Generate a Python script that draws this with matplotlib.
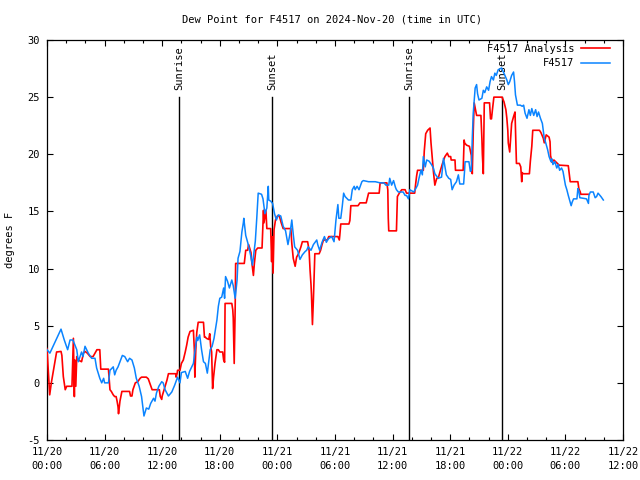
import matplotlib
matplotlib.use("Agg")
import matplotlib.pyplot as plt
from matplotlib.ticker import MultipleLocator

# Hours since 2024-11-20 00:00 UTC
obs_hours = [0, 0.3, 0.8, 1.2, 1.46, 1.8, 2.15, 2.4, 2.7, 3.1, 3.26, 3.6, 3.75, 3.96, 4.3, 4.65, 5.0, 5.17, 5.5, 5.7, 5.9, 6.0, 6.4,
             6.56, 6.9, 7.05, 7.2, 7.4, 7.6, 7.85, 8.1, 8.4, 8.6, 8.85, 9.1, 9.3, 9.6, 9.85, 10.1, 10.35, 10.6, 10.8, 11.1, 11.25,
             11.4, 11.65, 11.95, 12.1, 12.3, 12.65, 13.0, 13.3, 13.6, 13.85, 14.0, 14.4, 14.65, 14.85, 15.25, 15.4, 15.6, 15.7,
             15.9, 16.1, 16.3, 16.5, 16.7, 17.0, 17.2, 17.4, 17.7, 17.85, 18.0, 18.2, 18.4, 18.5, 18.6, 18.8, 19.0, 19.25, 19.4,
             19.6, 19.8, 19.9, 20.1, 20.3, 20.45, 20.5, 20.7, 20.9, 21.1, 21.25, 21.4, 21.7, 21.85, 22.0, 22.35, 22.5, 22.7,
             22.9, 23.05, 23.1, 23.3, 23.5, 23.7, 23.9, 24.1, 24.35, 24.6, 24.85, 25.1, 25.3, 25.5, 25.65, 25.8, 26.1, 26.35,
             26.6, 26.9, 27.05, 27.2, 27.5, 27.75, 28.1, 28.2, 28.4, 28.65, 28.9, 29.1, 29.3, 29.65, 29.9, 30.1, 30.3, 30.4,
             30.6, 30.75, 30.9, 31.05, 31.4, 31.65, 31.8, 32.0, 32.1, 32.3, 32.5, 32.8, 32.95, 33.5, 34.2, 34.7, 35.1, 35.3,
             35.6, 35.7, 35.9, 36.1, 36.3, 36.4, 36.6, 37.1, 37.3, 37.45, 37.65, 37.8, 38.2, 38.35, 38.6, 38.75, 38.95, 39.1,
             39.2, 39.4, 39.55, 39.8, 40.05, 40.25, 40.4, 40.75, 41.1, 41.3, 41.45, 41.6, 41.85, 42.05, 42.2, 42.4, 42.65,
             42.85, 43.0, 43.4, 43.5, 43.55, 43.95, 44.1, 44.2, 44.3, 44.4, 44.6, 44.75, 44.85, 45.0, 45.3, 45.45, 45.6, 45.8,
             46.0, 46.15, 46.3, 46.5, 46.65, 46.8, 47.0, 47.35, 47.7, 47.9, 48.05, 48.2, 48.4, 48.6, 48.7, 48.8, 49.0, 49.3,
             49.5, 49.65, 49.8, 50.0, 50.2, 50.35, 50.5, 50.7, 50.9, 51.05, 51.2, 51.4, 51.6, 51.8, 51.95, 52.15, 52.3, 52.5,
             52.6, 52.7, 52.9, 53.1, 53.25, 53.4, 53.6, 53.75, 54.0, 54.15, 54.3, 54.5, 54.6, 54.7, 54.85, 55.2, 55.3, 55.4,
             55.5, 56.2, 56.4, 56.45, 56.6, 56.9, 57.1, 57.25, 57.4, 57.7, 57.95]
obs_dewpt = [2.9, 2.6, 3.5, 4.2, 4.7, 3.75, 2.9, 3.75, 3.75, 2.9, 1.85, 2.7, 2.3, 3.2, 2.6, 2.15, 2.15, 1.3, 0.4, 0.0, 0.4, 0.0, 0.0,
             1.1, 1.4, 0.7, 1.1, 1.4, 1.85, 2.4, 2.3, 1.85, 2.15, 2.0, 1.3, 0.4, -0.3, -1.2, -2.9, -2.2, -2.3, -1.8, -1.35, -1.6,
             -0.9, -0.3, 0.1, 0.0, -0.6, -1.15, -0.8, -0.2, 0.5, 0.0, 0.9, 1.0, 0.4, 1.0, 1.7, 2.7, 4.0, 3.7,
             4.2, 2.9, 1.85, 1.7, 0.85, 2.9, 3.2, 3.9, 5.5, 6.7, 7.4, 7.5, 8.3, 7.4, 9.3, 8.9, 8.3, 9.0, 8.5,
             7.4, 9.0, 10.9, 11.5, 13.2, 14.0, 14.4, 12.9, 12.3, 11.6, 11.0, 10.3, 12.4, 14.4, 16.6, 16.5, 16.1, 14.8,
             15.3, 17.2, 16.0, 15.9, 15.7, 14.8, 14.25, 14.7, 14.6, 13.7, 13.3, 12.1, 13.0, 14.25, 13.0, 11.9, 11.6, 10.8,
             11.2, 11.5, 11.6, 11.9, 11.6, 12.1, 12.5, 12.1, 11.6, 12.3, 12.8, 12.3, 12.6, 12.8, 12.35, 14.25, 15.6, 14.4,
             14.4, 15.4, 16.6, 16.3, 16.0, 16.0, 16.9, 17.2, 16.9, 17.2, 16.9, 17.6, 17.7, 17.6, 17.6, 17.5, 17.5, 17.3,
             17.3, 17.9, 17.3, 17.7, 17.1, 16.9, 16.7, 16.7, 16.4, 16.4, 16.1, 16.9, 16.7, 16.9, 17.3, 17.9, 18.6, 18.2,
             19.8, 18.9, 19.5, 19.4, 19.1, 18.8, 18.3, 17.9, 18.0, 19.65, 18.9, 18.2, 17.9, 17.8, 16.9, 17.3, 17.6,
             18.2, 17.4, 17.4, 18.6, 19.35, 19.35, 18.5, 18.6, 21.4, 23.6, 25.8, 26.1, 25.3, 24.75, 24.9, 25.6, 25.4, 25.9,
             25.6, 26.35, 26.8, 26.5, 27.1, 26.9, 27.4, 27.55, 26.9, 26.5, 26.1, 26.35, 26.9, 27.2, 26.35, 25.2, 24.3, 24.3,
             24.2, 24.3, 23.6, 23.15, 23.9, 23.4, 24.0, 23.4, 23.9, 23.3, 23.7, 23.15, 22.7, 21.4, 21.0, 20.4, 19.8, 19.35,
             19.6, 19.1, 19.35, 18.8, 19.1, 18.6, 18.8, 18.5, 17.3, 16.9, 16.4, 15.8, 15.5, 15.8, 16.1, 16.1, 17.0, 16.8,
             16.2, 16.1, 15.7, 16.4, 16.7, 16.7, 16.2, 16.3, 16.6, 16.3, 16.0]

ana_hours = [0, 0.28, 0.45, 0.83, 1.0, 1.46, 1.55, 1.7, 1.9, 2.05, 2.6, 2.75, 2.85, 2.9, 3.0, 3.1, 3.25, 3.6, 3.8, 3.96, 4.2, 4.5,
             4.8, 5.0, 5.2, 5.5, 5.6, 6.4, 6.56, 6.7, 6.9, 7.05, 7.2, 7.3, 7.4, 7.45, 7.6, 7.8, 8.6, 8.7, 8.85, 8.95, 9.2,
             9.45, 9.7, 9.85, 10.35, 10.55, 10.95, 11.7, 11.8, 11.95, 12.0, 12.2, 12.3, 12.5, 12.65, 13.4, 13.45, 13.55,
             13.6, 13.85, 14.0, 14.2, 14.4, 14.55, 14.7, 14.9, 15.25, 15.35, 15.4, 15.5, 15.6, 15.75, 16.3, 16.4, 16.5, 16.6,
             16.85, 16.95, 17.05, 17.15, 17.25, 17.35, 17.5, 17.7, 17.85, 18.0, 18.3, 18.4, 18.5, 18.55, 19.25, 19.35,
             19.4, 19.5, 19.6, 19.65, 20.55, 20.7, 20.9, 21.0, 21.25, 21.3, 21.5, 21.6, 21.75, 21.95, 22.4, 22.55, 22.6,
             22.8, 22.9, 23.3, 23.4, 23.45, 23.55, 23.65, 23.8, 24.0, 24.2, 24.4, 24.6, 25.4, 25.5, 25.65, 25.85, 26.0,
             26.2, 26.45, 26.6, 27.15, 27.3, 27.4, 27.5, 27.55, 27.65, 27.75, 27.85, 27.9, 28.35, 28.5, 28.65, 28.8,
             29.2, 29.35, 30.3, 30.45, 30.5, 30.6, 31.45, 31.55, 31.65, 32.4, 32.6, 33.25, 33.35, 33.5, 34.6, 34.7,
             35.4, 35.5, 35.55, 35.6, 36.4, 36.5, 36.7, 36.95, 37.3, 37.45, 38.3, 38.4, 38.5, 38.6, 39.2, 39.3, 39.45,
             39.65, 39.9, 40.0, 40.15, 40.25, 40.4, 40.6, 40.75, 40.95, 41.2, 41.45, 41.7, 41.85, 42.05, 42.1, 42.5,
             42.55, 43.35, 43.45, 43.5, 43.7, 44.0, 44.2, 44.3, 44.4, 44.5, 44.75, 45.2, 45.3, 45.35, 45.45, 45.55,
             46.1, 46.2, 46.3, 46.4, 46.55, 47.4, 47.6, 47.8, 47.9, 48.0, 48.05, 48.2, 48.4, 48.6, 48.75, 48.85, 48.9,
             49.2, 49.35, 49.45, 49.5, 49.6, 50.25, 50.35, 50.5, 50.6, 51.3, 51.45, 51.7, 51.8, 52.0, 52.3, 52.4, 52.45,
             52.6, 52.8, 53.35, 54.3, 54.4, 54.5, 55.3, 55.4, 55.55, 55.6, 56.4]
ana_dewpt = [3.0, -1.05, 0.0, 1.85, 2.7, 2.75, 2.4, 0.55, -0.6, -0.3, -0.3, 3.9, -1.2, 2.0, -0.3, 2.3, 2.0, 1.85, 2.6, 2.75, 2.6, 2.3,
             2.3, 2.6, 2.9, 2.9, 1.2, 1.2, -0.6, -0.75, -1.05, -1.2, -1.2, -1.6, -2.1, -2.7, -1.6, -0.75, -0.75, -1.15, -1.15, -0.6, 0.0,
             0.1, 0.4, 0.5, 0.5, 0.35, -0.6, -0.6, -1.2, -1.45, -1.15, -0.6, -0.3, 0.25, 0.8, 0.8, 0.5, 0.8,
             1.1, 1.1, 1.7, 2.0, 2.7, 3.3, 4.0, 4.5, 4.6, 2.9, 0.5, 2.9, 4.4, 5.3, 5.3, 4.0, 4.0, 3.9,
             3.8, 4.3, 3.2, 2.7, -0.5, 0.5, 1.7, 2.9, 2.9, 2.7, 2.7, 2.0, 1.8, 6.95, 6.95, 6.4,
             5.7, 1.7, 6.4, 10.45, 10.45, 11.6, 11.6, 12.1, 11.4, 10.8, 9.4, 10.45, 11.6, 11.8, 11.8, 15.1, 14.0,
             15.1, 13.5, 13.5, 10.6, 12.8, 9.6, 13.4, 14.25, 14.6, 14.6, 14.0, 13.5, 13.5, 12.2, 10.9, 10.2, 11.0,
             11.3, 11.9, 12.35, 12.35, 11.6, 9.9, 8.6, 7.7, 5.1, 7.3, 9.9, 11.3, 11.3, 11.6, 12.1, 12.5,
             12.5, 12.8, 12.8, 12.5, 12.9, 13.9, 13.9, 14.2, 15.5, 15.5, 15.75, 15.75, 16.1, 16.6, 16.6, 17.5,
             17.5, 16.9, 14.4, 13.3, 13.3, 16.3, 16.6, 16.9, 16.9, 16.6, 16.6, 17.4, 18.1, 18.6, 18.6, 20.3, 21.8,
             22.1, 22.3, 21.0, 19.5, 18.5, 17.3, 17.9, 17.9, 18.5, 19.2, 19.8, 20.1, 19.8, 19.8, 19.5, 19.5,
             18.6, 18.6, 21.25, 21.0, 20.8, 20.7, 19.9, 18.3, 22.0, 24.5, 23.4, 23.4, 21.4, 20.0, 18.3, 24.5,
             24.5, 23.1, 23.1, 23.9, 25.0, 25.0, 24.6, 23.9, 23.15, 22.1, 21.0, 20.2, 22.7, 23.3, 23.7, 20.5, 19.2,
             19.2, 18.9, 17.6, 18.4, 18.3, 18.3, 19.4, 20.7, 22.1, 22.1, 21.9, 21.4, 21.0, 21.7, 21.5, 21.1, 19.9,
             19.3, 19.5, 19.05, 19.0, 18.3, 17.6, 17.6, 17.0, 16.7, 16.5, 16.5]

sun_hours = [13.78, 23.47, 37.74, 47.43]
sun_labels = ["Sunrise", "Sunset", "Sunrise", "Sunset"]

xtick_hours = [0, 6, 12, 18, 24, 30, 36, 42, 48, 54, 60]
xtick_labels = ["11/20\n00:00", "11/20\n06:00", "11/20\n12:00", "11/20\n18:00",
                "11/21\n00:00", "11/21\n06:00", "11/21\n12:00", "11/21\n18:00",
                "11/22\n00:00", "11/22\n06:00", "11/22\n12:00"]
ytick_values = [-5, 0, 5, 10, 15, 20, 25, 30]

plt.rcParams['font.family'] = ['DejaVu Sans Mono']
FS = 7.5

fig = plt.figure(figsize=(6.4, 4.8), dpi=100)
ax = fig.add_axes([47/640, 40/480, 576/640, 400/480])

ax.plot(ana_hours, ana_dewpt, color='#ff0000', lw=1.2, label='F4517 Analysis', zorder=3)
ax.plot(obs_hours, obs_dewpt, color='#0a84ff', lw=1.1, label='F4517', zorder=4)

for h, lab in zip(sun_hours, sun_labels):
    ax.plot([h, h], [-5, 25], color='black', lw=1.0, zorder=2)
    ax.text(h, 25.6, lab, rotation=90, ha='center', va='bottom', fontsize=FS)

ax.set_xlim(0, 60)
ax.set_ylim(-5, 30)
ax.set_xticks(xtick_hours)
ax.set_xticklabels(xtick_labels, fontsize=FS, linespacing=1.5)
ax.xaxis.set_minor_locator(MultipleLocator(2))
ax.set_yticks(ytick_values)
ax.set_yticklabels([str(v) for v in ytick_values], fontsize=FS)
ax.tick_params(which='both', direction='in', top=True, right=True, width=0.8)
ax.tick_params(which='major', length=4.5)
ax.tick_params(which='minor', length=2.5)
ax.tick_params(axis='x', which='major', pad=5)
ax.tick_params(axis='y', which='major', pad=5)
for s in ax.spines.values():
    s.set_linewidth(0.9)

ax.set_ylabel('degrees F', fontsize=FS, labelpad=9)
fig.text(332/640, 1 - 20/480, 'Dew Point for F4517 on 2024-Nov-20 (time in UTC)',
         ha='center', va='center', fontsize=FS)

leg = ax.legend(loc='upper right', frameon=False, markerfirst=False, fontsize=FS,
                handlelength=2.8, borderaxespad=0.0, borderpad=0.0,
                bbox_to_anchor=(610/640, 1 - 43.5/480), bbox_transform=fig.transFigure,
                labelspacing=0.45, handletextpad=0.6)
for t in leg.get_texts():
    t.set_ha('right')

fig.savefig('out.png', dpi=100)
